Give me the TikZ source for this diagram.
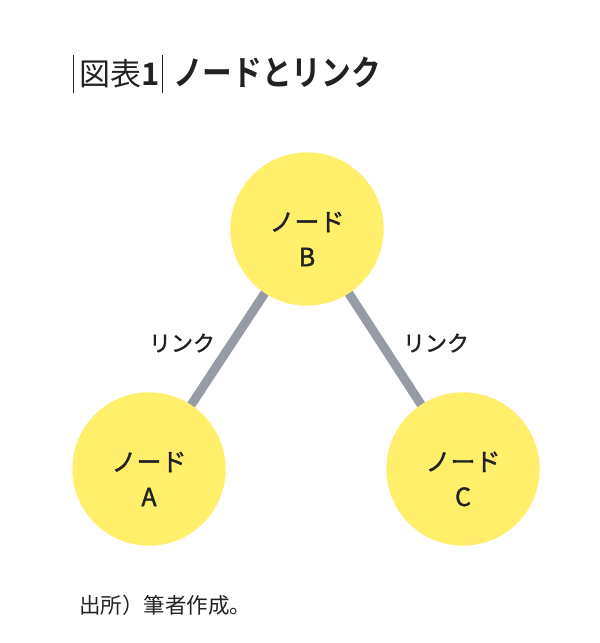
\documentclass[tikz,border=0pt]{standalone}
\usepackage{fontspec}
\newfontfamily\jp{Noto Sans CJK JP}
\newfontfamily\jpm[FakeBold=1.5]{Noto Sans CJK JP}
\newfontfamily\jpb{Noto Sans CJK JP Bold}
\definecolor{nodeyellow}{HTML}{FFEF6A}
\definecolor{linkgray}{HTML}{969BA5}
\definecolor{ink}{HTML}{222222}
\begin{document}
\begin{tikzpicture}[x=1pt,y=-1pt,
  nodecircle/.style={circle,fill=nodeyellow,minimum size=153pt,inner sep=0pt},
  nodetext/.style={align=center,text=ink,inner sep=0pt,font=\jpm\fontsize{25}{35}\selectfont},
  linkline/.style={draw=linkgray,line width=9pt},
  linklabel/.style={text=ink,font=\jpm\fontsize{22}{26}\selectfont},
  titlebar/.style={draw=ink,line width=0.8pt}]
\useasboundingbox (0,0) rectangle (600,643);
\node[nodecircle] (B) at (307,229) {};
\node[nodecircle] (A) at (149,469) {};
\node[nodecircle] (C) at (463,469) {};
\path[linkline] (B) -- (A);
\path[linkline] (B) -- (C);
\node[nodecircle] at (B) {};
\node[nodecircle] at (A) {};
\node[nodecircle] at (C) {};
\node[nodetext] (Bt) at ([yshift=-10pt]B.center) {ノード\\B};
\node[nodetext] (At) at ([yshift=-10pt]A.center) {ノード\\A};
\node[nodetext] (Ct) at ([yshift=-10pt]C.center) {ノード\\C};
\node[linklabel] (L1) at (182,343) {リンク};
\node[linklabel] (L2) at (436,343) {リンク};
\coordinate (t1a) at (73,55); \coordinate (t1b) at (73,93);
\coordinate (t2a) at (162,55); \coordinate (t2b) at (162,93);
\draw[titlebar] (t1a) -- (t1b);
\draw[titlebar] (t2a) -- (t2b);
\node[anchor=west,inner sep=0pt,text=ink,font=\jp\fontsize{31}{34}\selectfont] (T1) at (79,74) {図表{\jpb 1}};
\node[anchor=west,inner sep=0pt,text=ink,xscale=0.86,font=\jpb\fontsize{34.5}{40}\selectfont] (T2) at (173,72) {ノードとリンク};
\node[anchor=west,inner sep=0pt,text=ink,font=\jp\fontsize{21.5}{26}\selectfont] (F) at (79,605) {出所）筆者作成。};
\end{tikzpicture}
\end{document}
